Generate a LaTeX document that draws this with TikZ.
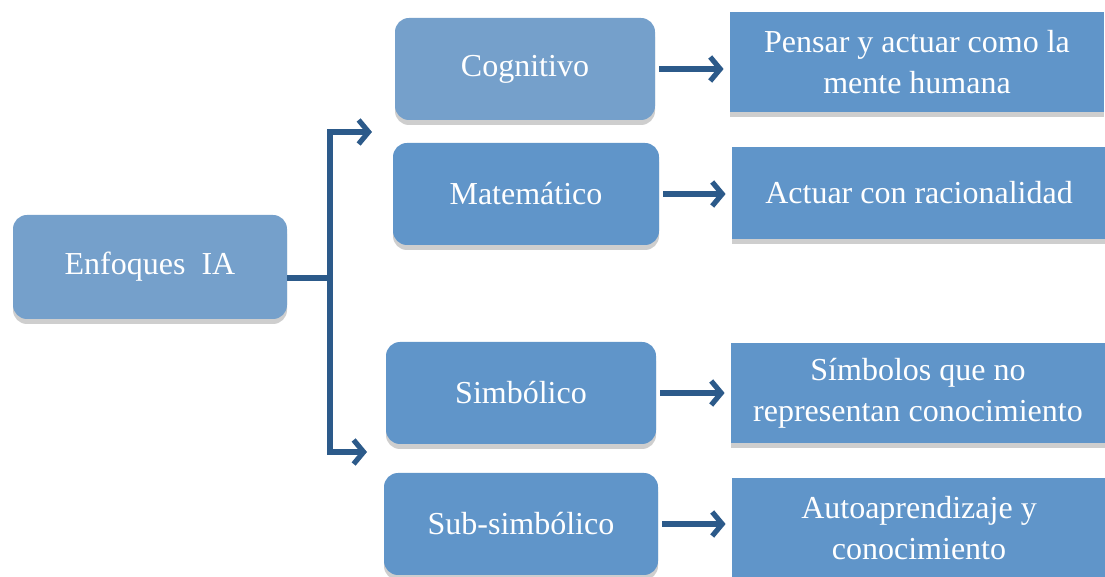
\documentclass[tikz,border=0pt]{standalone}
\usepackage{fontspec}
\setmainfont{Liberation Serif}
\usepackage{xcolor}
\usepackage{tikz}
\usetikzlibrary{arrows.meta,shadows}

\definecolor{azulclaro}{RGB}{117,160,203}
\definecolor{azulmedio}{RGB}{96,149,201}
\definecolor{azulflecha}{RGB}{44,90,138}

\tikzset{
  sombra/.style={drop shadow={shadow xshift=0pt, shadow yshift=-2.5pt, opacity=0.35, fill=black!55}},
  enfoque/.style={rounded corners=7pt, fill=azulmedio, text=white, sombra,
    minimum width=133pt, minimum height=51pt, font=\fontsize{16}{20.5}\selectfont},
  meta/.style={fill=azulmedio, text=white, sombra, align=center,
    minimum width=187pt, minimum height=50pt, font=\fontsize{16}{20.5}\selectfont},
  flecha/.style={azulflecha, line width=2.6pt, -{Straight Barb[length=5pt,width=12pt]}},
}

\begin{document}
\begin{tikzpicture}[x=0.5pt, y=-0.5pt]
\useasboundingbox (0,0) rectangle (1105,577);

% Raiz
\node[enfoque, fill=azulclaro, minimum width=137pt, minimum height=52pt] (enfoques) at (150,267) {Enfoques~~IA};

% Enfoques
\node[enfoque, fill=azulclaro, minimum width=130pt] (cognitivo) at (525,69) {Cognitivo};
\node[enfoque] (matematico) at (526,194) {Matemático};
\node[enfoque, minimum width=135pt] (simbolico) at (521,393) {Simbólico};
\node[enfoque, minimum width=137pt] (subsimbolico) at (521,524) {Sub-simbólico};

% Descripciones
\node[meta] (pensar) at (917,62) {Pensar y actuar como la\\mente humana};
\node[meta, minimum height=46pt] (actuar) at (919,193) {Actuar con racionalidad};
\node[meta] (simbolos) at (918,393) {Símbolos que no\\representan conocimiento};
\node[meta] (auto) at (919,528) {Autoaprendizaje y\\conocimiento};

% Ramas
\coordinate (rama) at (330,278);
\coordinate (arriba) at (372,132);
\coordinate (abajo) at (367,452);
\draw[azulflecha, line width=2.6pt] (enfoques.east |- rama) -- (rama);
\draw[flecha, {Straight Barb[length=5pt,width=12pt]}-{Straight Barb[length=5pt,width=12pt]}]
  (abajo) -- (abajo -| rama) -- (arriba -| rama) -- (arriba);

\foreach \a/\b in {cognitivo/pensar, matematico/actuar, simbolico/simbolos, subsimbolico/auto}
  \draw[flecha, shorten <=2pt, shorten >=3pt] (\a.east) -- (\a.east -| \b.west);

\end{tikzpicture}
\end{document}
